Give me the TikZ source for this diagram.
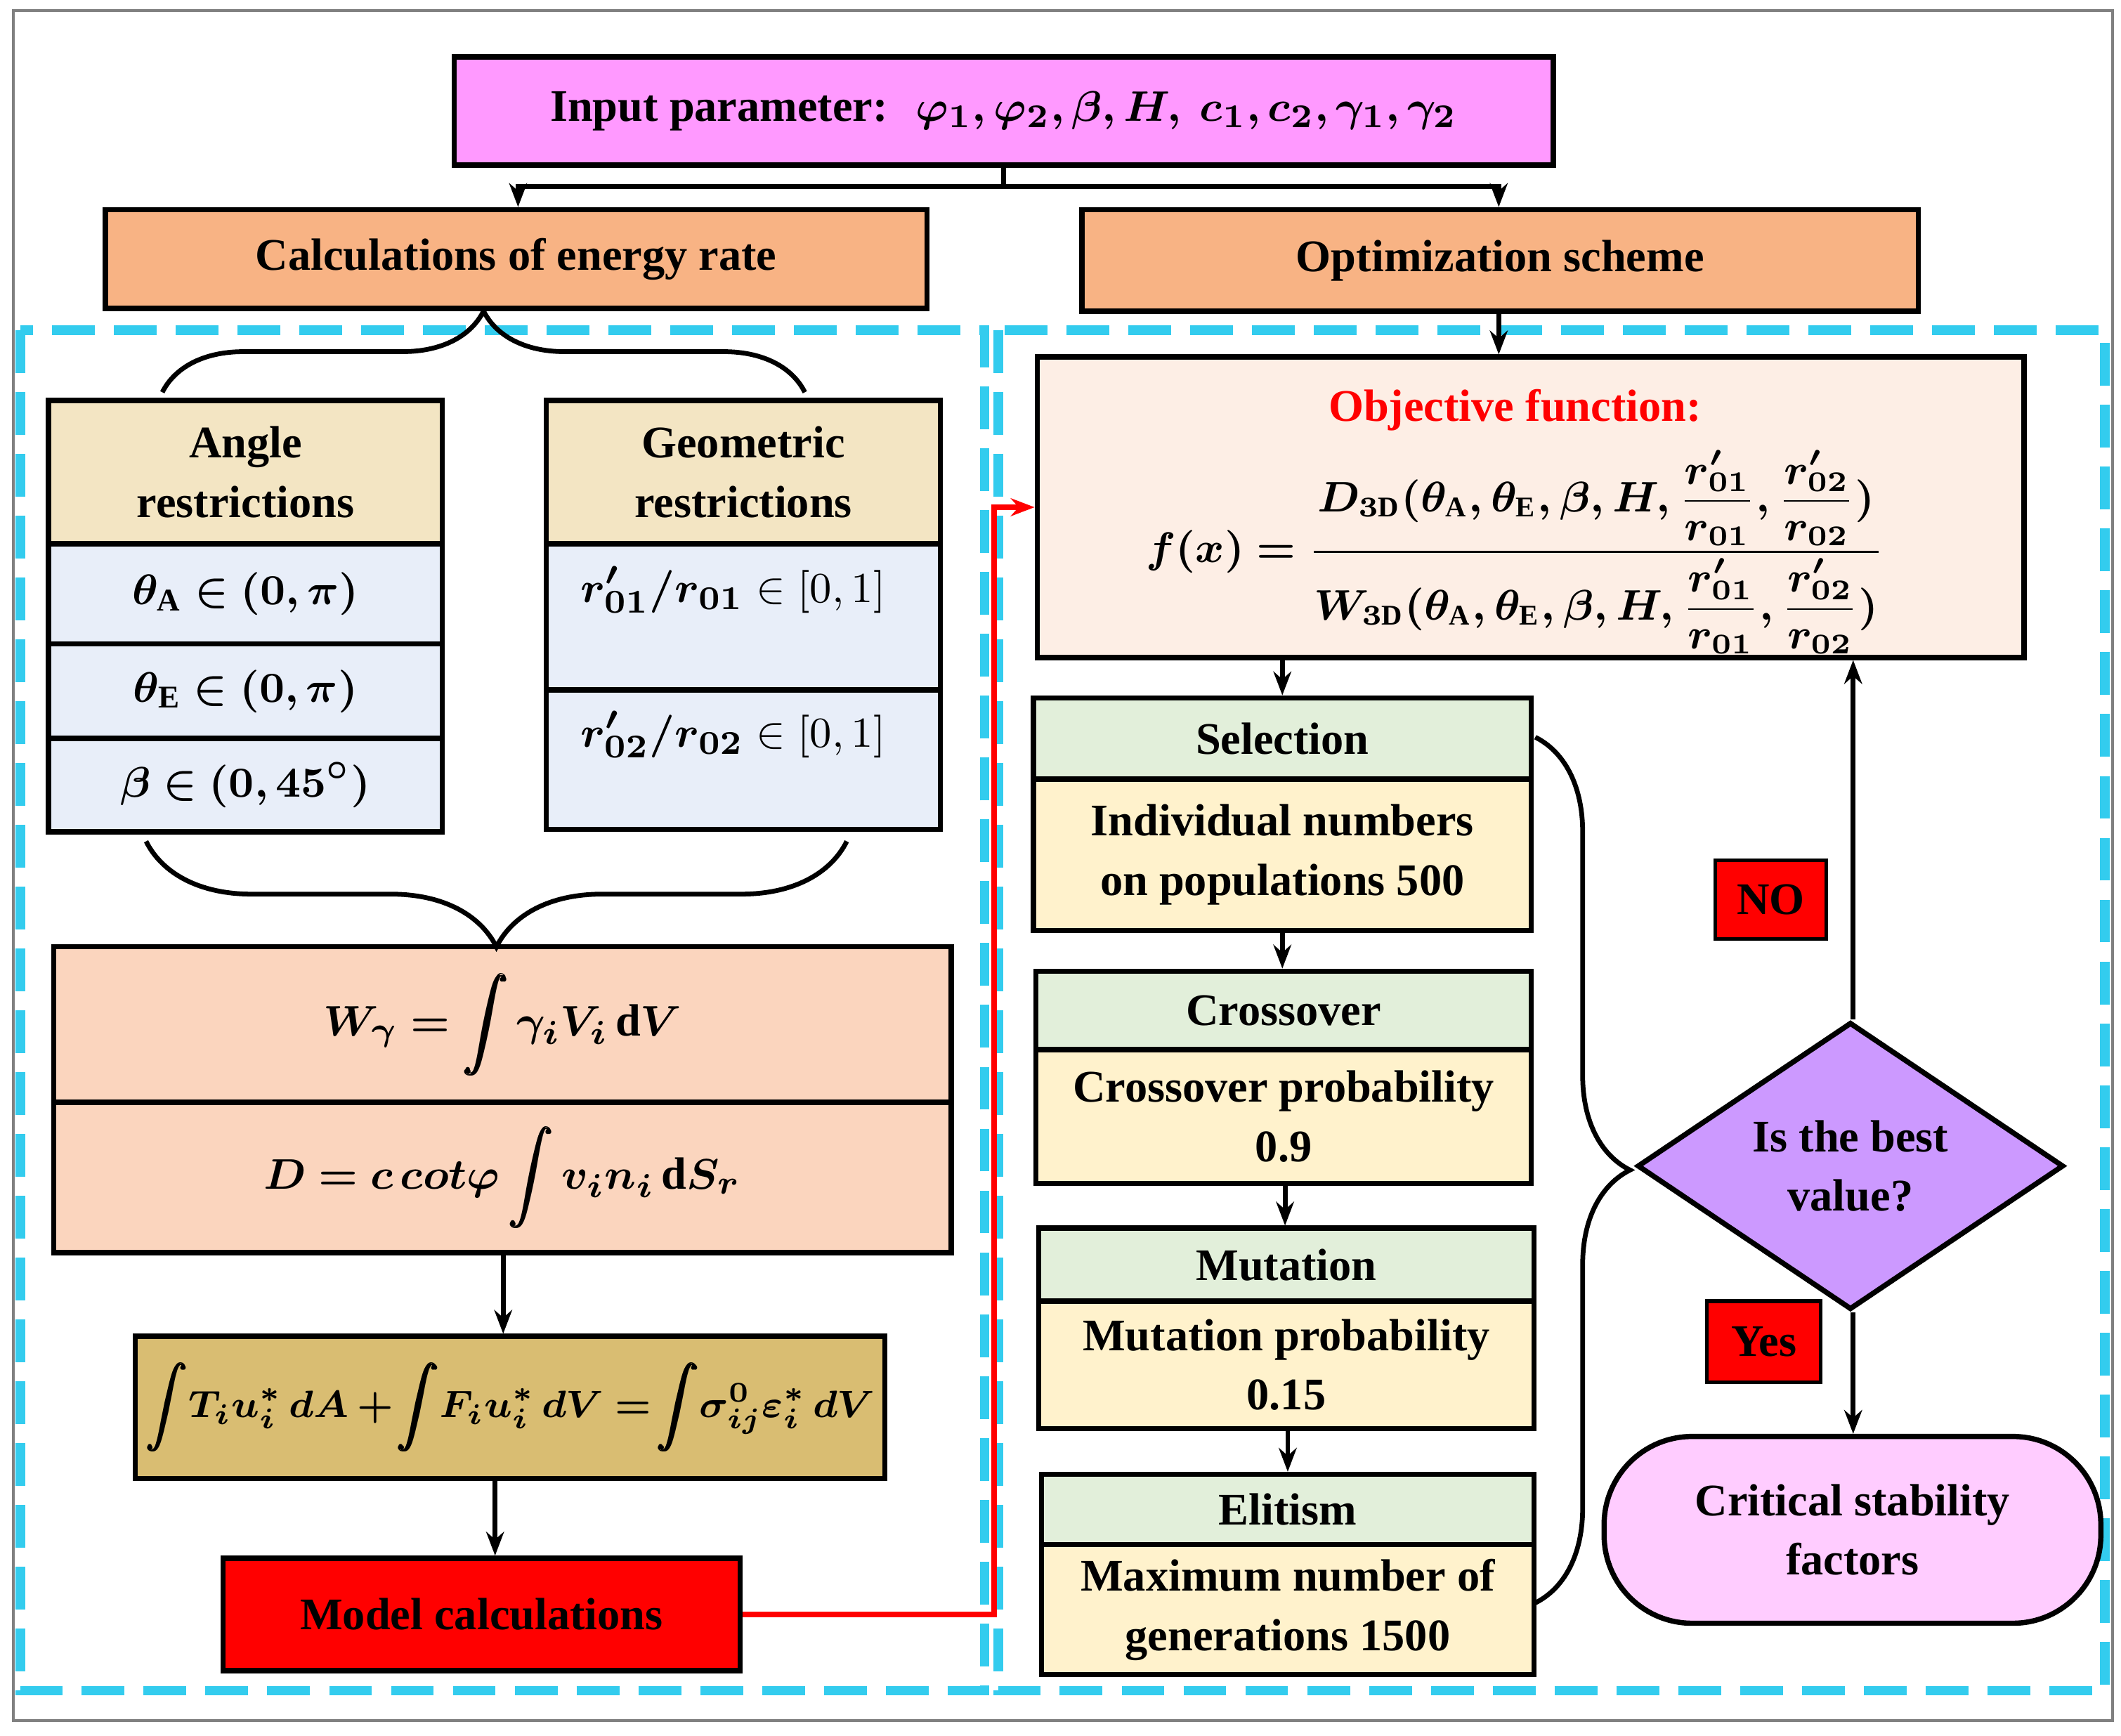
\documentclass[tikz,border=0pt]{standalone}
\usepackage{amsmath,amssymb,bm}
\usepackage{fontspec}
\setmainfont{Liberation Serif}
\usetikzlibrary{shapes.geometric,arrows.meta,decorations.pathreplacing}
\definecolor{inpfill}{HTML}{FF99FF}
\definecolor{headfill}{HTML}{F8B384}
\definecolor{tanfill}{HTML}{F3E5C3}
\definecolor{bluefill}{HTML}{E8EEF9}
\definecolor{peachfill}{HTML}{FBD5BE}
\definecolor{goldfill}{HTML}{D9BD72}
\definecolor{objfill}{HTML}{FDEEE5}
\definecolor{greenfill}{HTML}{E2EFDA}
\definecolor{creamfill}{HTML}{FFF2CC}
\definecolor{lilac}{HTML}{CC99FF}
\definecolor{pinkfill}{HTML}{FFCCFF}
\definecolor{dashcyan}{HTML}{33CCEE}
\tikzset{
  box/.style={draw, line width=1.1pt, inner sep=2pt, align=center, font=\bfseries\fontsize{9.5}{12.5}\selectfont},
  arr/.style={line width=1pt, -{Stealth[length=5pt]}},
  brc/.style={line width=1pt, decorate, decoration={brace, amplitude=#1}},
  zone/.style={dashcyan, line width=2pt, dash pattern=on 9pt off 4pt},
  flag/.style={box, fill=red, line width=0.8pt},
  lbl/.style={font=\bfseries\fontsize{9.5}{12.5}\selectfont}
}
\begin{document}
\begin{tikzpicture}[x=0.01cm, y=-0.01cm]
\useasboundingbox (0,0) rectangle (1568,1283);
\draw[gray, line width=0.6pt] (10,8) rectangle (1562,1272);
\draw[zone] (15,244) rectangle (728,1250);
\draw[zone] (738,244) rectangle (1556,1250);

% top row
\node[box, fill=inpfill, minimum width=8.12cm, minimum height=0.8cm] (inp) at (742,82)
  {Input parameter:\; $\bm{\varphi_1,\varphi_2,\beta,H,\ c_1,c_2,\gamma_1,\gamma_2}$};
\node[box, fill=headfill, minimum width=6.07cm, minimum height=0.73cm] (calc) at (381.5,191.5) {Calculations of energy rate};
\node[box, fill=headfill, minimum width=6.18cm, minimum height=0.75cm] (opt) at (1109,192.5) {Optimization scheme};

% restrictions
\node[box, fill=tanfill, minimum width=2.91cm, minimum height=1.06cm] (angH) at (181.5,349) {Angle\\restrictions};
\node[box, fill=bluefill, minimum width=2.91cm, minimum height=0.74cm] (angA) at (181.5,439) {$\bm{\theta_{\mathrm{A}}\in(0,\pi)}$};
\node[box, fill=bluefill, minimum width=2.91cm, minimum height=0.70cm] (angE) at (181.5,511) {$\bm{\theta_{\mathrm{E}}\in(0,\pi)}$};
\node[box, fill=bluefill, minimum width=2.91cm, minimum height=0.69cm] (angB) at (181.5,580.5) {$\bm{\beta\in(0,45^\circ)}$};
\node[box, fill=tanfill, minimum width=2.91cm, minimum height=1.06cm] (geoH) at (549.5,349) {Geometric\\restrictions};
\node[box, fill=bluefill, minimum width=2.91cm, minimum height=1.08cm] (geoA) at (549.5,456) {};
\node[box, fill=bluefill, minimum width=2.91cm, minimum height=1.03cm] (geoB) at (549.5,561.5) {};
\node[lbl] (geoAt) at (542,436) {$\bm{r'_{01}/r_{01}}\in[0,1]$};
\node[lbl] (geoBt) at (542,543) {$\bm{r'_{02}/r_{02}}\in[0,1]$};

% energy rate
\node[box, fill=peachfill, minimum width=6.63cm, minimum height=1.15cm] (wgam) at (371.5,757.5) {$\displaystyle\bm{W_\gamma=\int\gamma_iV_i\,\mathrm{d}V}$};
\node[box, fill=peachfill, minimum width=6.63cm, minimum height=1.11cm] (dis) at (371.5,870.5) {$\displaystyle\bm{D=c\,cot\varphi\int v_in_i\,\mathrm{d}S_r}$};
\node[box, fill=goldfill, minimum width=5.54cm, minimum height=1.05cm] (vw) at (377,1040.5)
  {\fontsize{8.3}{10}\selectfont$\displaystyle\bm{\int\! T_iu_i^*\,dA+\!\int\! F_iu_i^*\,dV=\!\int\!\sigma_{ij}^0\varepsilon_i^*\,dV}$};
\node[box, fill=red, minimum width=3.82cm, minimum height=0.83cm] (model) at (356,1193.5) {Model calculations};

% optimization
\node[box, fill=objfill, minimum width=7.29cm, minimum height=2.22cm] (obj) at (1131.5,375) {};
\node[lbl, text=red] (objT) at (1120,303) {Objective function:};
\node[font=\fontsize{9}{11}\selectfont] (objF) at (1120,408) {$\displaystyle \bm{f(x)=\frac{D_{3\mathrm{D}}(\theta_{\mathrm{A}},\theta_{\mathrm{E}},\beta,H,\dfrac{r'_{01}}{r_{01}},\dfrac{r'_{02}}{r_{02}})}{W_{3\mathrm{D}}(\theta_{\mathrm{A}},\theta_{\mathrm{E}},\beta,H,\dfrac{r'_{01}}{r_{01}},\dfrac{r'_{02}}{r_{02}})}}$};
\node[box, fill=greenfill, minimum width=3.68cm, minimum height=0.60cm] (selH) at (948,546) {Selection};
\node[box, fill=creamfill, minimum width=3.68cm, minimum height=1.12cm] (selB) at (948,632) {Individual numbers\\on populations 500};
\node[box, fill=greenfill, minimum width=3.66cm, minimum height=0.58cm] (croH) at (949,747) {Crossover};
\node[box, fill=creamfill, minimum width=3.66cm, minimum height=0.99cm] (croB) at (949,825.5) {Crossover probability\\0.9};
\node[box, fill=greenfill, minimum width=3.66cm, minimum height=0.54cm] (mutH) at (951,935) {Mutation};
\node[box, fill=creamfill, minimum width=3.66cm, minimum height=0.94cm] (mutB) at (951,1009) {Mutation probability\\0.15};
\node[box, fill=greenfill, minimum width=3.64cm, minimum height=0.52cm] (eliH) at (952,1116) {Elitism};
\node[box, fill=creamfill, minimum width=3.64cm, minimum height=0.96cm] (eliB) at (952,1190) {Maximum number of\\generations 1500};
\node[box, diamond, fill=lilac, minimum width=3.15cm, minimum height=1.9cm, inner sep=0pt] (best) at (1368,862) {Is the best\\value?};
\node[box, rounded corners=0.65cm, fill=pinkfill, minimum width=3.67cm, minimum height=1.38cm] (crit) at (1369.5,1131) {Critical stability\\factors};
\node[flag, minimum width=0.82cm, minimum height=0.58cm] (no) at (1309,665) {NO};
\node[flag, minimum width=0.84cm, minimum height=0.60cm] (yes) at (1304,992) {Yes};

% connectors
\coordinate (split) at (742,138);
\draw[line width=1pt] (inp.south) -- (split);
\draw[arr] (split) -| (calc.north -| 383,0);
\draw[arr] (split) -| (opt.north -| 1108,0);
\draw[brc=0.6cm] (120,290) -- (595,290);
\draw[brc=0.78cm] (626,622) -- (108,622);
\draw[arr] (dis.south -| 372,0) -- (vw.north -| 372,0);
\draw[arr] (vw.south -| 366,0) -- (model.north -| 366,0);
\draw[red, line width=1.2pt, -{Stealth[length=5pt]}] (model.east) -- (735,1193.5) |- (obj.west);
\draw[arr] (opt.south -| 1108,0) -- (obj.north -| 1108,0);
\draw[arr] (obj.south -| 948,0) -- (selH.north);
\draw[arr] (selB.south -| 948,0) -- (croH.north -| 948,0);
\draw[arr] (croB.south -| 950,0) -- (mutH.north -| 950,0);
\draw[arr] (mutB.south -| 952,0) -- (eliH.north -| 952,0);
\draw[brc=0.7cm] (1135,545) -- (1135,1185);
\draw[arr] (best.north -| 1370,0) -- (obj.south -| 1370,0);
\draw[arr] (best.south -| 1370,0) -- (crit.north -| 1370,0);
\end{tikzpicture}
\end{document}
